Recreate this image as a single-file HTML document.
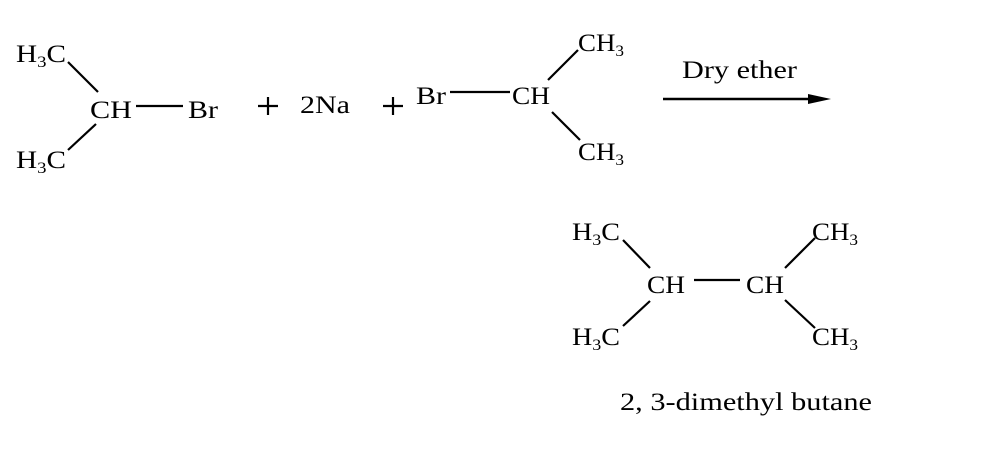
<!DOCTYPE html>
<html><head><meta charset="utf-8"><style>
html,body{margin:0;padding:0;background:#fff}
svg{display:block}
text{font-family:"Liberation Serif",serif;font-size:25px;fill:#000}
.s{font-size:16px}
</style></head><body>
<svg width="1006" height="475" viewBox="0 0 1006 475" xmlns="http://www.w3.org/2000/svg">
<g stroke="#000" stroke-width="2.2" fill="none">
<line x1="68" y1="62" x2="98" y2="92"/>
<line x1="96" y1="124" x2="68" y2="150"/>
<line x1="136" y1="106" x2="183" y2="106"/>
<line x1="450" y1="92" x2="510" y2="92"/>
<line x1="548" y1="80" x2="578" y2="50"/>
<line x1="552" y1="112" x2="580" y2="140"/>
<line x1="663" y1="99" x2="812" y2="99" stroke-width="2.5"/>
<line x1="623" y1="240" x2="650" y2="268"/>
<line x1="650" y1="301" x2="623" y2="326"/>
<line x1="694" y1="280" x2="740" y2="280"/>
<line x1="785" y1="268" x2="815" y2="238"/>
<line x1="785" y1="300" x2="815" y2="328"/>
<!-- plus signs -->
<line x1="258" y1="106" x2="278" y2="106"/>
<line x1="268" y1="97" x2="268" y2="115"/>
<line x1="383" y1="106" x2="403" y2="106"/>
<line x1="393" y1="97" x2="393" y2="115"/>
</g>
<polygon points="808,94 831,99 808,104" fill="#000"/>
<text x="16" y="62" textLength="50" lengthAdjust="spacingAndGlyphs">H<tspan class="s" dy="5">3</tspan><tspan dy="-5">C</tspan></text>
<text x="90" y="118" textLength="42" lengthAdjust="spacingAndGlyphs">CH</text>
<text x="188" y="118" textLength="30" lengthAdjust="spacingAndGlyphs">Br</text>
<text x="300" y="113" textLength="50" lengthAdjust="spacingAndGlyphs">2Na</text>
<text x="416" y="104" textLength="30" lengthAdjust="spacingAndGlyphs">Br</text>
<text x="512" y="104" textLength="38" lengthAdjust="spacingAndGlyphs">CH</text>
<text x="578" y="51" textLength="46" lengthAdjust="spacingAndGlyphs">CH<tspan class="s" dy="5">3</tspan></text>
<text x="578" y="160" textLength="46" lengthAdjust="spacingAndGlyphs">CH<tspan class="s" dy="5">3</tspan></text>
<text x="16" y="168" textLength="50" lengthAdjust="spacingAndGlyphs">H<tspan class="s" dy="5">3</tspan><tspan dy="-5">C</tspan></text>
<text x="682" y="78" textLength="115" lengthAdjust="spacingAndGlyphs">Dry ether</text>
<text x="572" y="240" textLength="48" lengthAdjust="spacingAndGlyphs">H<tspan class="s" dy="5">3</tspan><tspan dy="-5">C</tspan></text>
<text x="647" y="293" textLength="38" lengthAdjust="spacingAndGlyphs">CH</text>
<text x="746" y="293" textLength="38" lengthAdjust="spacingAndGlyphs">CH</text>
<text x="812" y="240" textLength="46" lengthAdjust="spacingAndGlyphs">CH<tspan class="s" dy="5">3</tspan></text>
<text x="572" y="345" textLength="48" lengthAdjust="spacingAndGlyphs">H<tspan class="s" dy="5">3</tspan><tspan dy="-5">C</tspan></text>
<text x="812" y="345" textLength="46" lengthAdjust="spacingAndGlyphs">CH<tspan class="s" dy="5">3</tspan></text>
<text x="620" y="410" textLength="252" lengthAdjust="spacingAndGlyphs">2, 3-dimethyl butane</text>
</svg>
</body></html>
